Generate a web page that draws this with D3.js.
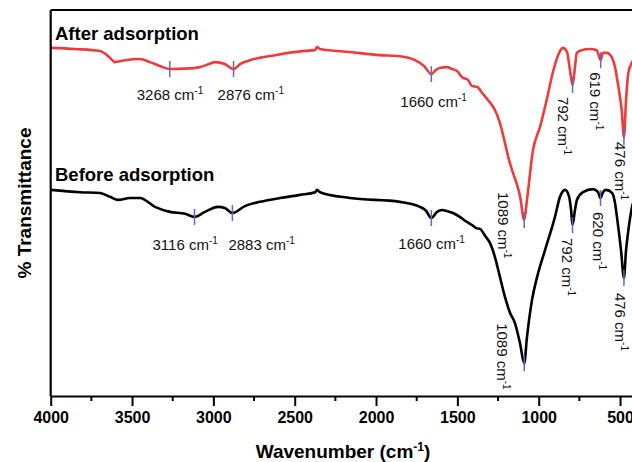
<!DOCTYPE html>
<html>
<head>
<meta charset="utf-8">
<script src="https://cdn.jsdelivr.net/npm/d3@7"></script>
<style>
  body { margin: 0; background: #fff; }
  text { font-family: "Liberation Sans", Arial, sans-serif; }
</style>
</head>
<body>
<div id="chart"></div>
<script>
const width = 632, height = 462;

// spectrum after adsorption (wavenumber, % transmittance)
const afterWn = [4000, 3851, 3697, 3654, 3635, 3605, 3543, 3451, 3390, 3328, 3268, 3174, 3082, 3021, 2990, 2929, 2876, 2836, 2775, 2621, 2437, 2375, 2363, 2344, 2160, 1976, 1853, 1760, 1705, 1660, 1631, 1608, 1564, 1533, 1502, 1471, 1435, 1410, 1379, 1348, 1312, 1269, 1238, 1207, 1182, 1158, 1133, 1115, 1089, 1072, 1035, 992, 951, 912, 881, 851, 826, 808, 792, 777, 766, 736, 685, 643, 619, 605, 582, 551, 531, 510, 490, 476, 463, 449, 428, 400];
const afterT  = [90.2, 89.9, 89.4, 88.3, 87.6, 86.5, 87.0, 87.3, 86.5, 85.5, 84.7, 84.8, 85.2, 86.1, 86.5, 86.0, 84.7, 86.0, 87.0, 88.3, 89.4, 89.6, 90.4, 89.9, 89.1, 88.3, 88.0, 87.0, 85.5, 83.4, 84.5, 85.0, 85.2, 84.7, 84.2, 82.6, 81.9, 80.3, 80.1, 78.5, 76.7, 74.1, 70.7, 65.5, 61.1, 57.8, 54.7, 51.8, 45.6, 50.8, 63.7, 69.7, 76.7, 84.0, 88.3, 90.2, 89.1, 84.5, 80.6, 85.2, 88.9, 89.6, 89.9, 89.6, 87.0, 88.9, 88.9, 87.8, 85.2, 80.1, 74.1, 67.1, 76.7, 83.7, 86.3, 87.6];

// spectrum before adsorption
const beforeWn = [4000, 3820, 3697, 3635, 3586, 3512, 3451, 3359, 3267, 3174, 3116, 3052, 2972, 2929, 2883, 2806, 2713, 2590, 2467, 2375, 2363, 2344, 2160, 1853, 1730, 1693, 1660, 1625, 1594, 1564, 1527, 1485, 1442, 1410, 1385, 1361, 1330, 1299, 1269, 1238, 1207, 1176, 1146, 1115, 1089, 1072, 1041, 1010, 961, 900, 869, 838, 814, 801, 792, 777, 765, 728, 666, 635, 620, 605, 586, 549, 531, 519, 494, 476, 463, 451, 426, 400];
const beforeT  = [53.4, 52.8, 52.6, 51.6, 50.8, 51.3, 51.3, 49.0, 47.7, 47.2, 46.4, 47.7, 49.0, 48.7, 47.4, 49.2, 50.3, 51.3, 52.1, 52.8, 53.4, 52.8, 51.3, 50.3, 49.0, 48.0, 46.1, 47.7, 48.2, 47.9, 47.4, 46.4, 45.1, 44.3, 43.5, 43.3, 41.5, 39.6, 36.0, 30.8, 25.6, 21.5, 18.9, 13.7, 8.5, 15.3, 24.9, 30.8, 37.8, 46.4, 51.6, 53.4, 51.8, 48.2, 44.3, 48.2, 50.8, 52.8, 53.6, 52.8, 51.3, 52.8, 53.4, 52.6, 50.0, 46.4, 37.8, 30.6, 37.8, 42.2, 49.0, 52.1];

// labelled peaks
const afterPeaks  = [3268, 2876, 1660, 1089, 792, 619, 476];
const beforePeaks = [3116, 2883, 1660, 1089, 792, 620, 476];

const xTicks = [4000, 3500, 3000, 2500, 2000, 1500, 1000, 500];
const xMinorTicks = [3750, 3250, 2750, 2250, 1750, 1250, 750];

// label placement (dx, dy from the marked point, rotated or not)
const afterLabelPos = [[-33, 31, 0], [-16, 31, 0], [-31, 33, 0], [-26, -28, 1], [-15, 12, 1], [-11, 12, 1], [-9, 5, 1]];
const beforeLabelPos = [[-42, 33, 0], [-4, 37, 0], [-33, 31, 0], [-27, -40, 1], [-11, 13, 1], [-8, 14, 1], [-9, 15, 1]];

const x = d3.scaleLinear().domain([4000, 400]).range([50.7, 636.3]);
const y = d3.scaleLinear().domain([0, 100]).range([396, 10]);

const svg = d3.select("#chart").append("svg")
    .attr("width", width)
    .attr("height", height);

const line = d3.line()
    .x(d => x(d[0]))
    .y(d => y(d[1]))
    .curve(d3.curveMonotoneX);

// linear lookup of a spectrum value at a wavenumber
const valueAt = (wn, ts, w) => {
    for (let i = 0; i < wn.length - 1; i++) {
        if (w <= wn[i] && w >= wn[i + 1]) {
            const t = (wn[i] - w) / (wn[i] - wn[i + 1]);
            return ts[i] + t * (ts[i + 1] - ts[i]);
        }
    }
    return ts[ts.length - 1];
};

const drawSpectrum = (wn, ts, color) => {
    const pts = d3.zip(wn, ts).reverse();
    svg.append("path")
        .datum(pts)
        .attr("fill", "none")
        .attr("stroke", color)
        .attr("stroke-width", 2.6)
        .attr("stroke-linejoin", "round")
        .attr("d", line);
};

drawSpectrum(afterWn, afterT, "#ef3b3b");
drawSpectrum(beforeWn, beforeT, "#000");

const drawPeaks = (peaks, wn, ts, pos) => {
    const g = svg.append("g");
    peaks.forEach((p, i) => {
        const px = x(p), py = y(valueAt(wn, ts, p));
        g.append("line")
            .attr("x1", px).attr("x2", px)
            .attr("y1", py - 8).attr("y2", py + 8)
            .attr("stroke", "#5b6bc6")
            .attr("stroke-width", 1.5);
        const [dx, dy, rot] = pos[i];
        const t = g.append("text")
            .attr("transform", `translate(${px + dx},${py + dy})` + (rot ? " rotate(90)" : ""))
            .attr("font-size", 15)
            .attr("fill", "#111");
        t.append("tspan").text(p + " cm");
        t.append("tspan").attr("dy", -6).attr("font-size", 10).text("-1");
    });
};

drawPeaks(afterPeaks, afterWn, afterT, afterLabelPos);
drawPeaks(beforePeaks, beforeWn, beforeT, beforeLabelPos);

// frame
svg.append("line")
    .attr("x1", 50.7).attr("x2", width)
    .attr("y1", 10).attr("y2", 10)
    .attr("stroke", "#000").attr("stroke-width", 2.2);
svg.append("line")
    .attr("x1", 50.7).attr("x2", 50.7)
    .attr("y1", 10).attr("y2", 396)
    .attr("stroke", "#000").attr("stroke-width", 2.2);

// x axis
const xAxis = svg.append("g")
    .attr("transform", "translate(0,396)")
    .call(d3.axisBottom(x).tickValues(xTicks).tickFormat(d3.format("d"))
        .tickSize(10).tickPadding(6).tickSizeOuter(0));
xAxis.select(".domain").attr("stroke-width", 2.2);
xAxis.selectAll(".tick line").attr("stroke-width", 2);
xAxis.selectAll(".tick text")
    .attr("font-size", 16)
    .attr("font-weight", "bold")
    .attr("font-family", "'Liberation Sans', Arial, sans-serif")
    .attr("fill", "#000");

svg.append("g")
    .attr("transform", "translate(0,396)")
    .selectAll("line")
    .data(xMinorTicks)
    .join("line")
    .attr("x1", d => x(d)).attr("x2", d => x(d))
    .attr("y1", 0).attr("y2", 5)
    .attr("stroke", "#000").attr("stroke-width", 2);

// axis titles
const xTitle = svg.append("text")
    .attr("x", 343).attr("y", 458)
    .attr("text-anchor", "middle")
    .attr("font-size", 19)
    .attr("font-weight", "bold");
xTitle.append("tspan").text("Wavenumber (cm");
xTitle.append("tspan").attr("dy", -7).attr("font-size", 12).text("-1");
xTitle.append("tspan").attr("dy", 7).text(")");

svg.append("text")
    .attr("transform", "translate(31,203) rotate(-90)")
    .attr("text-anchor", "middle")
    .attr("font-size", 19)
    .attr("font-weight", "bold")
    .text("% Transmittance");

// series titles
svg.append("text")
    .attr("x", 55).attr("y", 40)
    .attr("font-size", 18.5)
    .attr("font-weight", "bold")
    .text("After adsorption");
svg.append("text")
    .attr("x", 55).attr("y", 181)
    .attr("font-size", 18.5)
    .attr("font-weight", "bold")
    .text("Before adsorption");
</script>
</body>
</html>
